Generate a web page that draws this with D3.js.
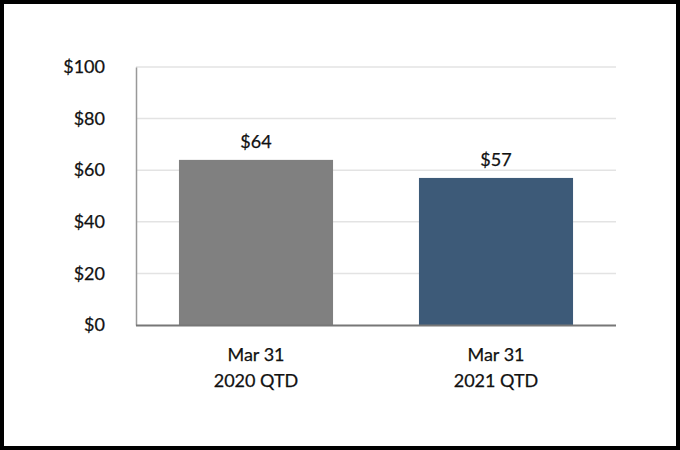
<!DOCTYPE html>
<html><head><meta charset="utf-8">
<script src="https://cdn.jsdelivr.net/npm/d3@7"></script>
<style>body{margin:0;background:#fff;}svg{display:block;}</style>
</head><body>
<script>
const categories = [["Mar 31","2020 QTD"],["Mar 31","2021 QTD"]];
const values = [64, 57];
const colors = ["#808080", "#3d5a78"];
const yTicks = [0, 20, 40, 60, 80, 100];

const W = 680, H = 450;
const svg = d3.select("body").append("svg").attr("width", W).attr("height", H);
const font = "Lato, 'Open Sans', sans-serif";
const fs = 18;

svg.append("rect").attr("x", 2).attr("y", 2).attr("width", W - 4).attr("height", H - 4)
  .attr("fill", "#fff").attr("stroke", "#000").attr("stroke-width", 4);

const x0 = 136, x1 = 616, yTop = 67, yBot = 325;
const x = d3.scaleBand().domain(d3.range(values.length)).range([x0, x1]).paddingInner(0.358).paddingOuter(0.179);
const y = d3.scaleLinear().domain([0, 100]).range([yBot, yTop]);

// gridlines
svg.append("g").selectAll("line").data(yTicks.filter(d => d > 0)).join("line")
  .attr("x1", x0).attr("x2", x1).attr("y1", d => y(d)).attr("y2", d => y(d))
  .attr("stroke", "#e3e3e3").attr("stroke-width", 1.5);

// y axis
const yAxis = d3.axisLeft(y).tickValues(yTicks).tickFormat(d => "$" + d).tickSize(0).tickPadding(31);
const ga = svg.append("g").attr("transform", `translate(${x0},0)`).call(yAxis);
ga.select(".domain").attr("stroke", "#999").attr("stroke-width", 1.5);
ga.selectAll("text").attr("font-family", font).attr("font-size", fs).attr("fill", "#111")
  .attr("stroke", "#111").attr("stroke-width", 0.25);

// bars
svg.append("g").selectAll("rect").data(values).join("rect")
  .attr("x", (d, i) => x(i)).attr("width", x.bandwidth())
  .attr("y", d => y(d)).attr("height", d => y(0) - y(d))
  .attr("fill", (d, i) => colors[i]);

// x axis line
svg.append("line").attr("x1", x0).attr("x2", x1).attr("y1", yBot + 0.5).attr("y2", yBot + 0.5)
  .attr("stroke", "#777").attr("stroke-width", 2);

// value labels
svg.append("g").selectAll("text").data(values).join("text")
  .attr("x", (d, i) => x(i) + x.bandwidth() / 2).attr("y", d => y(d) - 12)
  .attr("text-anchor", "middle").attr("font-family", font).attr("font-size", fs).attr("fill", "#111")
  .attr("stroke", "#111").attr("stroke-width", 0.25)
  .text(d => "$" + d);

// category labels
const cl = svg.append("g").selectAll("text").data(categories).join("text")
  .attr("text-anchor", "middle").attr("font-family", font).attr("font-size", fs).attr("fill", "#111")
  .attr("stroke", "#111").attr("stroke-width", 0.25);
cl.each(function(d, i) {
  const t = d3.select(this);
  d.forEach((line, k) => {
    t.append("tspan").attr("x", x(i) + x.bandwidth() / 2).attr("y", 361 + k * 26).text(line);
  });
});
</script>
</body></html>
